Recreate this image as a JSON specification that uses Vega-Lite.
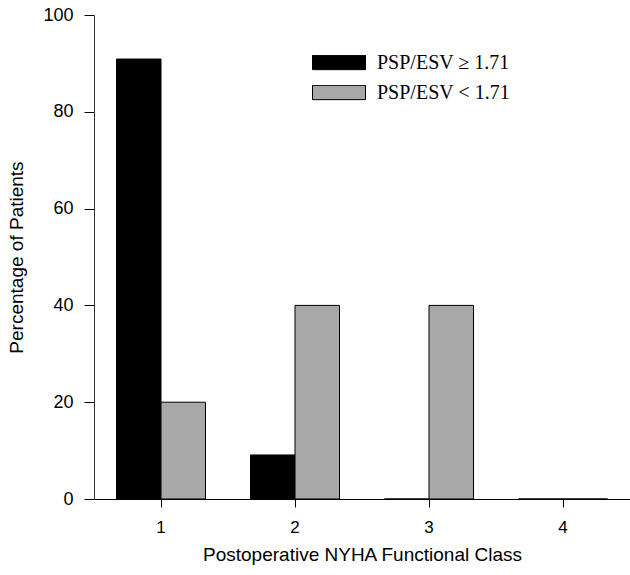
{
  "$schema": "https://vega.github.io/schema/vega-lite/v6.json",
  "autosize": "none",
  "padding": {"left": 94, "top": 15, "right": 0, "bottom": 76},
  "width": 536,
  "height": 484,
  "background": "white",
  "data": {
    "values": [
      {"cls": "1", "group": "PSP/ESV ≥ 1.71", "value": 90.9},
      {"cls": "1", "group": "PSP/ESV < 1.71", "value": 20},
      {"cls": "2", "group": "PSP/ESV ≥ 1.71", "value": 9.1},
      {"cls": "2", "group": "PSP/ESV < 1.71", "value": 40},
      {"cls": "3", "group": "PSP/ESV ≥ 1.71", "value": 0},
      {"cls": "3", "group": "PSP/ESV < 1.71", "value": 40},
      {"cls": "4", "group": "PSP/ESV ≥ 1.71", "value": 0},
      {"cls": "4", "group": "PSP/ESV < 1.71", "value": 0}
    ]
  },
  "config": {
    "view": {"stroke": null},
    "font": "Liberation Sans"
  },
  "mark": {"type": "bar", "stroke": "black", "strokeWidth": 1},
  "encoding": {
    "x": {
      "field": "cls",
      "type": "nominal",
      "scale": {"paddingInner": 0.336, "paddingOuter": 0.168},
      "axis": {
        "title": "Postoperative NYHA Functional Class",
        "labelAngle": 0,
        "labelFont": "Liberation Sans",
        "labelFontSize": 17,
        "labelColor": "black",
        "labelPadding": 12,
        "tickSize": 8,
        "tickColor": "black",
        "domainColor": "black",
        "titleFont": "Liberation Sans",
        "titleFontSize": 19,
        "titleFontWeight": "normal",
        "titleColor": "black",
        "titlePadding": 10
      }
    },
    "xOffset": {"field": "group", "type": "nominal", "sort": ["PSP/ESV ≥ 1.71", "PSP/ESV < 1.71"]},
    "y": {
      "field": "value",
      "type": "quantitative",
      "scale": {"domain": [0, 100], "nice": false},
      "axis": {
        "title": "Percentage of Patients",
        "values": [0, 20, 40, 60, 80, 100],
        "grid": false,
        "tickSize": 10,
        "tickColor": "black",
        "domainColor": "#333333",
        "labelFont": "Liberation Sans",
        "labelFontSize": 18,
        "labelColor": "black",
        "labelPadding": 11,
        "titleFont": "Liberation Sans",
        "titleFontSize": 19,
        "titleFontWeight": "normal",
        "titleColor": "black",
        "titlePadding": 16
      }
    },
    "color": {
      "field": "group",
      "type": "nominal",
      "sort": ["PSP/ESV ≥ 1.71", "PSP/ESV < 1.71"],
      "scale": {"domain": ["PSP/ESV ≥ 1.71", "PSP/ESV < 1.71"], "range": ["#000000", "#a8a8a8"]},
      "legend": {
        "title": null,
        "orient": "none",
        "legendX": 218,
        "legendY": 40,
        "symbolType": "M-1,-0.27H1V0.27H-1Z",
        "symbolSize": 2809,
        "symbolStrokeColor": "black",
        "symbolStrokeWidth": 1,
        "symbolOpacity": 1,
        "clipHeight": 15,
        "rowPadding": 9,
        "labelFont": "Liberation Serif",
        "labelFontSize": 20,
        "labelColor": "black",
        "labelOffset": 11,
        "labelLimit": 300
      }
    }
  }
}
